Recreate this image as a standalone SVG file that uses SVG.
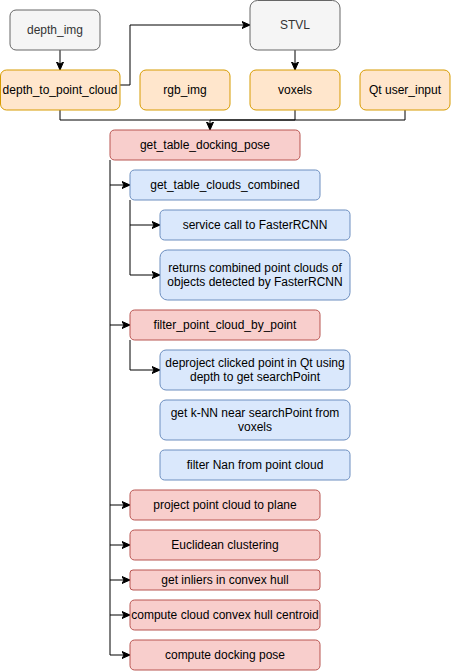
<svg xmlns="http://www.w3.org/2000/svg" width="451" height="671" viewBox="0 0 451 671">
<style>
text{font-family:"Liberation Sans",Arial,Helvetica,sans-serif;font-size:12px;text-anchor:middle;dominant-baseline:central;fill:#000}
.g rect{fill:#f5f5f5;stroke:#666666}
.g text{fill:#333333}
.o rect{fill:#ffe6cc;stroke:#d79b00}
.r rect{fill:#f8cecc;stroke:#b85450}
.b rect{fill:#dae8fc;stroke:#6c8ebf}
#edges path{fill:none;stroke:#000;stroke-width:1}
</style>
<defs>
<marker id="a" markerUnits="userSpaceOnUse" markerWidth="10" markerHeight="10" viewBox="0 0 10 10" refX="8" refY="5" orient="auto">
<path d="M0,1.5 L8,5 L0,8.5 L2,5 Z" fill="#000" stroke="#000" stroke-width="1"/>
</marker>
</defs>
<g id="edges">
<path d="M60,50 V70" marker-end="url(#a)"/>
<path d="M120,85 H130 V25 H250" marker-end="url(#a)"/>
<path d="M295,50 V70" marker-end="url(#a)"/>
<path d="M60,110 V120 H210"/>
<path d="M295,110 V120 H210"/>
<path d="M405,110 V120 H210"/>
<path d="M210,120 V130" marker-end="url(#a)"/>
<path d="M110,160 V655 H130" marker-end="url(#a)"/>
<path d="M110,185 H130" marker-end="url(#a)"/>
<path d="M110,325 H130" marker-end="url(#a)"/>
<path d="M110,505 H130" marker-end="url(#a)"/>
<path d="M110,545 H130" marker-end="url(#a)"/>
<path d="M110,580 H130" marker-end="url(#a)"/>
<path d="M110,615 H130" marker-end="url(#a)"/>
<path d="M130,200 V275 H160" marker-end="url(#a)"/>
<path d="M130,225 H160" marker-end="url(#a)"/>
<path d="M130,340 V370 H160" marker-end="url(#a)"/>
</g>
<g id="depth_img" class="g"><rect x="10" y="10" width="90" height="40" rx="6"/><text x="55" y="30">depth_img</text></g>
<g id="stvl" class="g"><rect x="250" y="0.5" width="90" height="49.5" rx="7.5"/><text x="295" y="25">STVL</text></g>
<g id="depth_to_point_cloud" class="o"><rect x="0.5" y="70" width="119.5" height="40" rx="6"/><text x="60" y="90">depth_to_point_cloud</text></g>
<g id="rgb_img" class="o"><rect x="140" y="70" width="90" height="40" rx="6"/><text x="185" y="90">rgb_img</text></g>
<g id="voxels" class="o"><rect x="250" y="70" width="90" height="40" rx="6"/><text x="295" y="90">voxels</text></g>
<g id="qt_user_input" class="o"><rect x="360" y="70" width="90" height="40" rx="6"/><text x="405" y="90">Qt user_input</text></g>
<g id="get_table_docking_pose" class="r"><rect x="110" y="130" width="190" height="30" rx="4.5"/><text x="205" y="145">get_table_docking_pose</text></g>
<g id="get_table_clouds_combined" class="b"><rect x="130" y="170" width="190" height="30" rx="4.5"/><text x="225" y="185">get_table_clouds_combined</text></g>
<g id="service_call" class="b"><rect x="160" y="210" width="190" height="30" rx="4.5"/><text x="255" y="225">service call to FasterRCNN</text></g>
<g id="returns_combined" class="b"><rect x="160" y="250" width="190" height="50" rx="7.5"/><text x="255" y="275"><tspan x="255" dy="-7">returns combined point clouds of</tspan><tspan x="255" dy="14">objects detected by FasterRCNN</tspan></text></g>
<g id="filter_point_cloud_by_point" class="r"><rect x="130" y="310" width="190" height="30" rx="4.5"/><text x="225" y="325">filter_point_cloud_by_point</text></g>
<g id="deproject" class="b"><rect x="160" y="350" width="190" height="40" rx="6"/><text x="255" y="370"><tspan x="255" dy="-7">deproject clicked point in Qt using</tspan><tspan x="255" dy="14">depth to get searchPoint</tspan></text></g>
<g id="knn" class="b"><rect x="160" y="400" width="190" height="40" rx="6"/><text x="255" y="420"><tspan x="255" dy="-7">get k-NN near searchPoint from</tspan><tspan x="255" dy="14">voxels</tspan></text></g>
<g id="filter_nan" class="b"><rect x="160" y="450" width="190" height="30" rx="4.5"/><text x="255" y="465">filter Nan from point cloud</text></g>
<g id="project_plane" class="r"><rect x="130" y="490" width="190" height="30" rx="4.5"/><text x="225" y="505">project point cloud to plane</text></g>
<g id="euclidean" class="r"><rect x="130" y="530" width="190" height="30" rx="4.5"/><text x="225" y="545">Euclidean clustering</text></g>
<g id="inliers" class="r"><rect x="130" y="570" width="190" height="20" rx="3"/><text x="225" y="580">get inliers in convex hull</text></g>
<g id="centroid" class="r"><rect x="130" y="600" width="190" height="30" rx="4.5"/><text x="225" y="615">compute cloud convex hull centroid</text></g>
<g id="docking_pose" class="r"><rect x="130" y="640" width="190" height="30" rx="4.5"/><text x="225" y="655">compute docking pose</text></g>
</svg>
